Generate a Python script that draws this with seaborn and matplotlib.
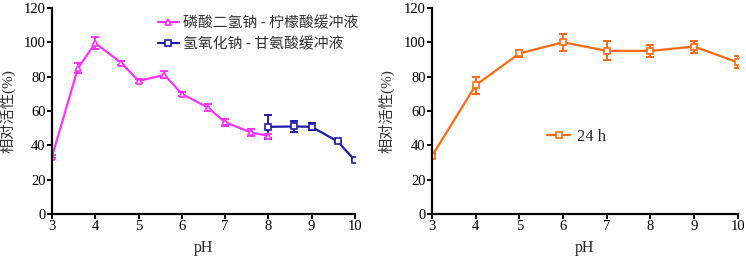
import numpy as np
import pandas as pd
import matplotlib
matplotlib.use("Agg")
import matplotlib.pyplot as plt
import seaborn as sns

# ---- data ----
ph_citrate = [3, 3.6, 4, 4.6, 5, 5.6, 6, 6.6, 7, 7.6, 8]
act_citrate = [33.5, 85, 99.5, 88, 77.5, 81, 70, 62, 53.5, 47.5, 45.5]
err_citrate = [1, 3, 3.5, 1, 1, 2, 1, 2, 2, 2, 1]

ph_glycine = [8, 8.6, 9, 9.6, 10]
act_glycine = [50.8, 51, 50.8, 42.3, 31.3]
err_glycine = [7, 3, 2, 0.5, 0.5]

ph_24h = [3, 4, 5, 6, 7, 8, 9, 10]
act_24h = [33.8, 75, 93.5, 100, 95, 95, 97.5, 88.3]
err_24h = [1, 5, 2, 5, 5.5, 3.5, 3.5, 3.5]

label_citrate = "磷酸二氢钠 - 柠檬酸缓冲液"
label_glycine = "氢氧化钠 - 甘氨酸缓冲液"
label_24h = "24 h"
xlabel = "pH"
ylabel = "相对活性(%)"
xticks = [3, 4, 5, 6, 7, 8, 9, 10]
yticks = [0, 20, 40, 60, 80, 100, 120]

sns.set_theme(style="ticks")
plt.rcParams['font.family'] = ['Liberation Serif', 'Noto Sans CJK SC', 'DejaVu Sans']
plt.rcParams['font.size'] = 10.5

c_mag = "#FF33FF"
c_blue = "#1C1CA8"
c_orange = "#FF6A10"

fig = plt.figure(figsize=(7.46, 2.64), dpi=100)
ax1 = fig.add_axes([0.0697, 0.189, 0.406, 0.781])
ax2 = fig.add_axes([0.579, 0.189, 0.410, 0.781])

def draw(ax, x, y, e, color, marker, label):
    df = pd.DataFrame({"x": x, "y": y})
    sns.lineplot(data=df, x="x", y="y", ax=ax, color=color, marker=marker,
                 markersize=5, markerfacecolor="white", markeredgecolor=color,
                 markeredgewidth=1.2, linewidth=1.6, label=label, legend=False)
    ax.errorbar(x, y, yerr=e, fmt="none", ecolor=color, elinewidth=1.4,
                capsize=3, capthick=1.4, zorder=1)

draw(ax1, ph_citrate, act_citrate, err_citrate, c_mag, "^", label_citrate)
draw(ax1, ph_glycine, act_glycine, err_glycine, c_blue, "s", label_glycine)
draw(ax2, ph_24h, act_24h, err_24h, c_orange, "s", label_24h)

for ax, ycoord in ((ax1, -0.12), (ax2, -0.121)):
    ax.set_xlim(3, 10)
    ax.set_ylim(0, 120)
    ax.set_xticks(xticks)
    ax.set_yticks(yticks)
    ax.set_xlabel(xlabel, fontsize=11.5, labelpad=5)
    ax.set_ylabel(ylabel, fontsize=11, color="#333333")
    ax.yaxis.set_label_coords(ycoord, 0.5)
    for s in ("top", "right"):
        ax.spines[s].set_visible(False)
    for s in ("left", "bottom"):
        ax.spines[s].set_linewidth(1.6)
        ax.spines[s].set_color("black")
    ax.tick_params(axis="both", direction="out", length=3.5, width=1.4,
                   labelsize=10.5, pad=1, colors="black")
    for lab in ax.get_xticklabels() + ax.get_yticklabels():
        lab.set_family(['Liberation Serif'])
    ax.xaxis.label.set_family(['Liberation Serif'])

leg1 = ax1.legend(loc="upper right", bbox_to_anchor=(1.01, 0.96), frameon=False,
                  prop={'family': ['Noto Sans CJK SC'], 'size': 10.7},
                  handlelength=1.4, handletextpad=0.25, labelspacing=0.45,
                  borderpad=0, borderaxespad=0)
for t in leg1.get_texts():
    t.set_color("#333333")
leg2 = ax2.legend(loc="center left", bbox_to_anchor=(0.376, 0.374), frameon=False,
                  prop={'family': ['Liberation Serif'], 'size': 12},
                  handlelength=1.4, handletextpad=0.4,
                  borderpad=0, borderaxespad=0)

fig.savefig("out.png", dpi=100)
